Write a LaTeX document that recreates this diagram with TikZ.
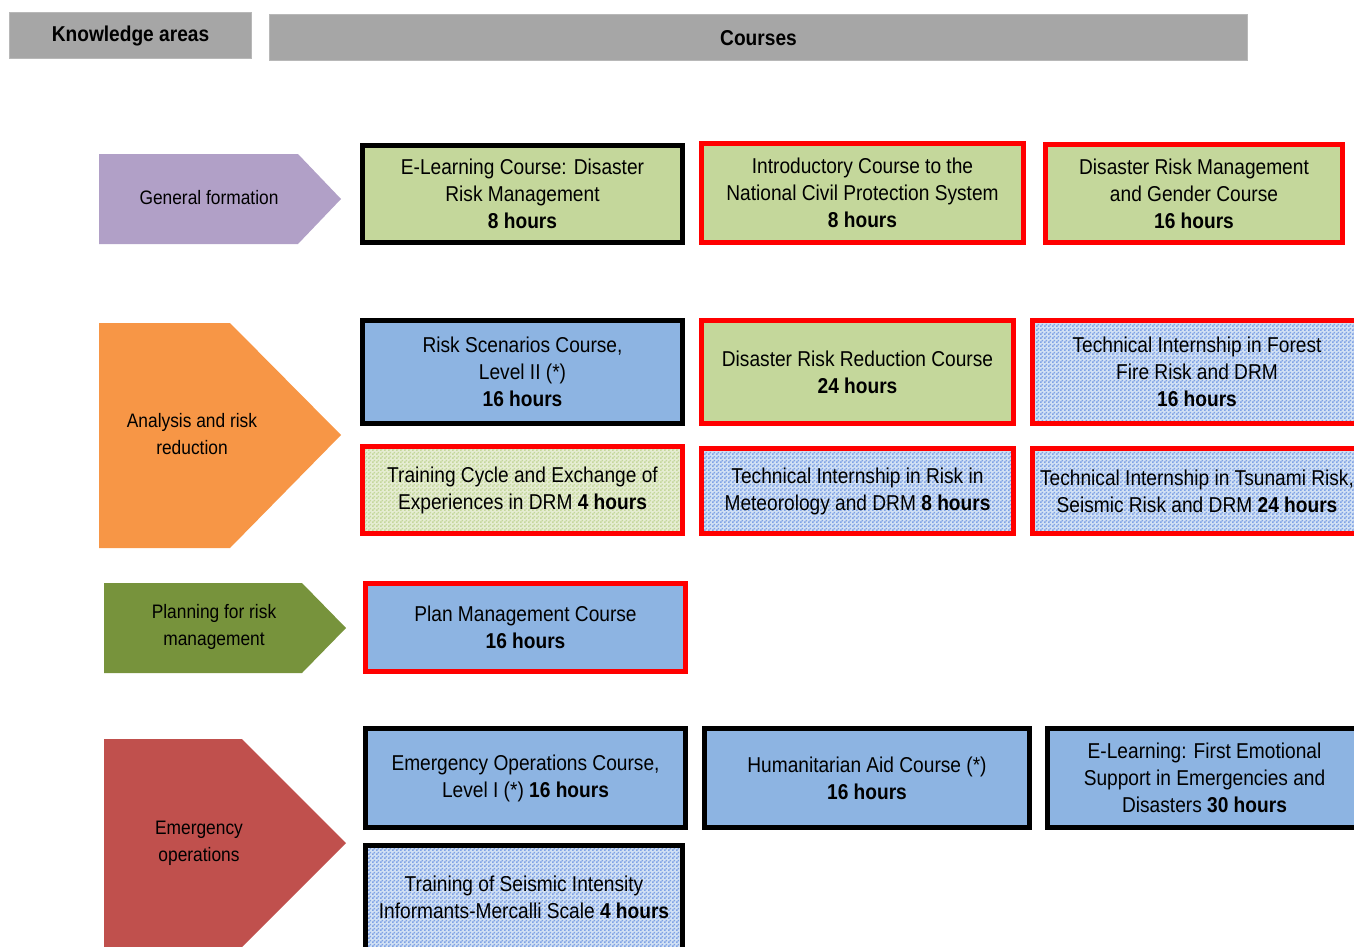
\documentclass[tikz,border=0pt]{standalone}
\usepackage{fontspec}
\setmainfont{Liberation Sans}[FakeStretch=0.89]
\usetikzlibrary{patterns}
\definecolor{hdrgray}{HTML}{A6A6A6}
\definecolor{gfpurple}{HTML}{B1A0C7}
\definecolor{arorange}{HTML}{F79646}
\definecolor{plgreen}{HTML}{77933C}
\definecolor{emred}{HTML}{C0504D}
\definecolor{bxgreen}{HTML}{C4D79B}
\definecolor{bxblue}{HTML}{8DB4E2}
\definecolor{ltblue}{HTML}{D2E1F4}
\definecolor{ltgreen}{HTML}{E6EDD3}
\definecolor{brred}{HTML}{FF0000}
\pgfdeclarepatternformonly{checker}{\pgfqpoint{0pt}{0pt}}{\pgfqpoint{4pt}{4pt}}{\pgfqpoint{4pt}{4pt}}{%
  \pgfpathrectangle{\pgfqpoint{0pt}{0pt}}{\pgfqpoint{2pt}{2pt}}%
  \pgfpathrectangle{\pgfqpoint{2pt}{2pt}}{\pgfqpoint{2pt}{2pt}}%
  \pgfusepath{fill}}
\tikzset{
  txt/.style={font=\fontsize{19.5}{27}\selectfont, align=center, text=black, inner sep=0pt},
  hdr/.style={fill=hdrgray, draw=hdrgray!80!white, line width=1pt, inner sep=0pt, font=\fontsize{21.5}{27}\selectfont\bfseries},
  course/.style={line width=5pt, inner sep=0pt, align=center, font=\fontsize{21.5}{27}\selectfont},
  blk/.style={draw=black},
  rd/.style={draw=brred},
  gfill/.style={fill=bxgreen},
  bfill/.style={fill=bxblue},
  bdots/.style={preaction={fill=ltblue}, preaction={pattern=checker, pattern color=bxblue!90!blue}},
  gdots/.style={preaction={fill=ltgreen}, preaction={pattern=checker, pattern color=bxgreen}},
}
% \cbox{name}{x1}{y1}{x2}{y2}{style}{text}
\newcommand{\cbox}[7]{%
  \pgfmathsetmacro{\cx}{(#2+#4)/2}\pgfmathsetmacro{\cy}{(#3+#5)/2}%
  \pgfmathsetmacro{\cw}{#4-#2-5}\pgfmathsetmacro{\ch}{#5-#3-5}%
  \node[course,#6,minimum width=\cw pt,minimum height=\ch pt] (#1) at (\cx,\cy) {#7};}
\begin{document}
\begin{tikzpicture}[x=1pt,y=-1pt]
\useasboundingbox (0,0) rectangle (1354,947);
\clip (0,0) rectangle (1354,947);
% headers
\node[hdr, minimum width=242pt, minimum height=46pt] (ka) at (130.5,36) {Knowledge areas};
\node[hdr, minimum width=978pt, minimum height=46pt] (co) at (758.5,38) {Courses};
% area arrows
\fill[gfpurple] (99,154) -- (298,154) -- (341,199) -- (298,244) -- (99,244) -- cycle;
\node[txt] (gf) at (209,198) {General formation};
\fill[arorange] (99,323) -- (230,323) -- (341,435) -- (230,548) -- (99,548) -- cycle;
\node[txt] (ar) at (192,434) {Analysis and risk\\reduction};
\fill[plgreen] (104,583) -- (302,583) -- (346,628) -- (302,673) -- (104,673) -- cycle;
\node[txt] (pl) at (214,627) {Planning for risk\\management};
\fill[emred] (104,739) -- (242,739) -- (346,843) -- (242,947) -- (104,947) -- cycle;
\node[txt] (em) at (199,843) {Emergency\\operations};
% row 1
\cbox{b1}{360}{143}{685}{245}{blk,gfill}{E-Learning Course: Disaster\\Risk Management\\\textbf{8 hours}}
\cbox{b2}{699}{141}{1026}{245}{rd,gfill}{Introductory Course to the\\National Civil Protection System\\\textbf{8 hours}}
\cbox{b3}{1043}{142}{1345}{245}{rd,gfill}{Disaster Risk Management\\and Gender Course\\\textbf{16 hours}}
% row 2
\cbox{c1}{360}{318}{685}{426}{blk,bfill}{Risk Scenarios Course,\\Level II (*)\\\textbf{16 hours}}
\cbox{c2}{699}{318}{1016}{426}{rd,gfill}{Disaster Risk Reduction Course\\\textbf{24 hours}}
\cbox{c3}{1030}{318}{1364}{426}{rd,bdots}{Technical Internship in Forest\\Fire Risk and DRM\\\textbf{16 hours}}
% row 3
\cbox{d1}{360}{444}{685}{536}{rd,gdots}{Training Cycle and Exchange of\\Experiences in DRM \textbf{4 hours}}
\cbox{d2}{699}{446}{1016}{536}{rd,bdots}{Technical Internship in Risk in\\Meteorology and DRM \textbf{8 hours}}
\cbox{d3}{1030}{446}{1364}{536}{rd,bdots}{Technical Internship in Tsunami Risk,\\Seismic Risk and DRM \textbf{24 hours}}
% row 4
\cbox{e1}{363}{581}{688}{674}{rd,bfill}{Plan Management Course\\\textbf{16 hours}}
% row 5
\cbox{f1}{363}{726}{688}{830}{blk,bfill}{Emergency Operations Course,\\Level I (*) \textbf{16 hours}}
\cbox{f2}{702}{726}{1032}{830}{blk,bfill}{Humanitarian Aid Course (*)\\\textbf{16 hours}}
\cbox{f3}{1045}{726}{1364}{830}{blk,bfill}{E-Learning: First Emotional\\Support in Emergencies and\\Disasters \textbf{30 hours}}
\cbox{f4}{363}{843}{685}{952}{blk,bdots}{Training of Seismic Intensity\\Informants-Mercalli Scale \textbf{4 hours}}
\end{tikzpicture}
\end{document}
